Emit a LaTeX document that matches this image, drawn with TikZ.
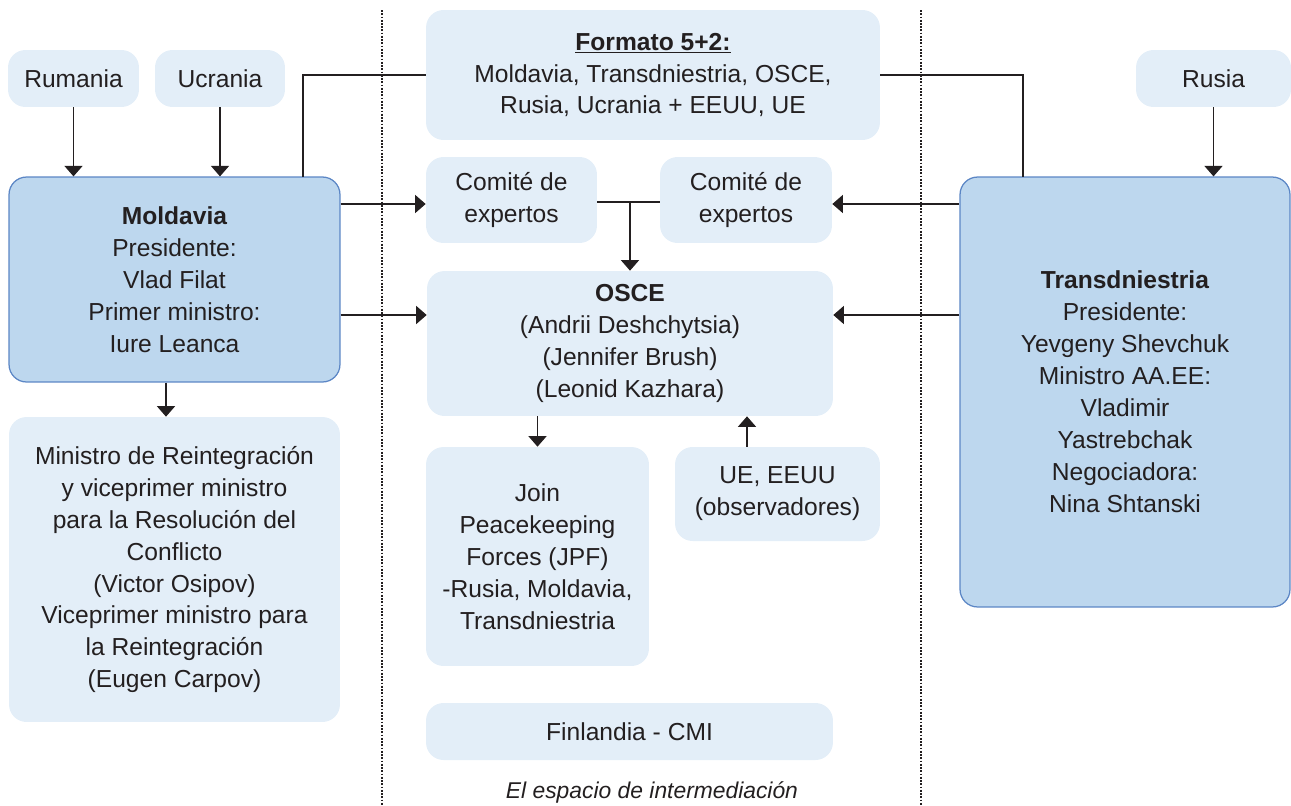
\documentclass[tikz,border=0pt]{standalone}
\usepackage{fontspec}
\setmainfont{Liberation Sans}
\usetikzlibrary{arrows.meta}

\begin{document}
\begin{tikzpicture}[x=0.02cm, y=-0.02cm,
  box/.style={rounded corners=0.35cm, fill=my_light, text=my_text, align=center, inner sep=0pt, font=\fontsize{14}{18.2}\selectfont},
  mainbox/.style={box, fill=my_blue, draw=my_border, line width=0.025cm},
  link/.style={line width=0.026cm, draw=my_text},
  arr/.style={link, -{Triangle[width=0.36cm, length=0.21cm]}}]
\definecolor{my_light}{RGB}{227,238,248}
\definecolor{my_blue}{RGB}{189,215,238}
\definecolor{my_border}{RGB}{91,134,197}
\definecolor{my_text}{RGB}{35,31,32}
\useasboundingbox (0,0) rectangle (1291,805);
% separators of the middle space
\draw[my_text, line width=0.045cm, dash pattern=on 0.035cm off 0.03cm] (382,10) -- (382,805);
\draw[my_text, line width=0.045cm, dash pattern=on 0.035cm off 0.03cm] (921,10) -- (921,805);
% top row
\node[box, minimum width=2.62cm, minimum height=1.14cm] (rumania) at (73.5,78.5) {Rumania};
\node[box, minimum width=2.6cm, minimum height=1.14cm] (ucrania) at (220,78.5) {Ucrania};
\node[box, minimum width=3.1cm, minimum height=1.14cm] (rusia) at (1213.5,78.5) {Rusia};
\node[box, minimum width=9.08cm, minimum height=2.6cm] (formato) at (653,75) {\underline{\textbf{Formato 5+2:}}\\Moldavia, Transdniestria, OSCE,\\Rusia, Ucrania + EEUU, UE};
% parties
\node[mainbox, minimum width=6.62cm, minimum height=4.1cm] (moldavia) at (174.5,279.5) {\textbf{Moldavia}\\Presidente:\\Vlad Filat\\Primer ministro:\\Iure Leanca};
\node[mainbox, minimum width=6.6cm, minimum height=8.6cm] (transdniestria) at (1125,392) {\textbf{Transdniestria}\\Presidente:\\Yevgeny Shevchuk\\Ministro AA.EE:\\Vladimir\\Yastrebchak\\Negociadora:\\Nina Shtanski};
\node[box, minimum width=6.62cm, minimum height=6.1cm] (ministro) at (174.5,569.5) {Ministro de Reintegración\\y viceprimer ministro\\para la Resolución del\\Conflicto\\(Victor Osipov)\\Viceprimer ministro para\\la Reintegración\\(Eugen Carpov)};
% middle space
\node[box, minimum width=3.42cm, minimum height=1.72cm] (comite_m) at (511.5,200) {Comité de\\expertos};
\node[box, minimum width=3.44cm, minimum height=1.72cm] (comite_t) at (746,200) {Comité de\\expertos};
\node[box, minimum width=8.12cm, minimum height=2.9cm] (osce) at (630,343.5) {\textbf{OSCE}\\(Andrii Deshchytsia)\\(Jennifer Brush)\\(Leonid Kazhara)};
\node[box, minimum width=4.46cm, minimum height=4.38cm] (jpf) at (537.5,556.5) {Join\\Peacekeeping\\Forces (JPF)\\-Rusia, Moldavia,\\Transdniestria};
\node[box, minimum width=4.1cm, minimum height=1.88cm] (observadores) at (777.5,494) {UE, EEUU\\(observadores)};
\node[box, minimum width=8.14cm, minimum height=1.14cm] (finlandia) at (629.5,731.5) {Finlandia - CMI};
\node[text=my_text, font=\itshape\fontsize{13}{16}\selectfont] (espacio) at (652,792) {El espacio de intermediación};
% connectors
\coordinate (moldavia_top) at (303,177);
\coordinate (transdniestria_top) at (1023,177);
\draw[arr] (rumania.south) -- (rumania.south |- moldavia.north);
\draw[arr] (ucrania.south) -- (ucrania.south |- moldavia.north);
\draw[arr] (rusia.south) -- (rusia.south |- transdniestria.north);
\draw[link] (moldavia_top) |- (formato.west);
\draw[link] (formato.east) -| (transdniestria_top);
\draw[arr] (moldavia.east |- 0,204) -- (comite_m.west |- 0,204);
\draw[arr] (transdniestria.west |- 0,204) -- (comite_t.east |- 0,204);
\draw[link] (comite_m.east |- 0,202) -- (comite_t.west |- 0,202);
\draw[arr] (osce.north |- 0,202) -- (osce.north);
\draw[arr] (moldavia.east |- 0,315) -- (osce.west |- 0,315);
\draw[arr] (transdniestria.west |- 0,315) -- (osce.east |- 0,315);
\draw[arr] (166,0 |- moldavia.south) -- (166,0 |- ministro.north);
\draw[arr] (osce.south -| jpf.north) -- (jpf.north);
\draw[arr] (747,0 |- observadores.north) -- (747,0 |- osce.south);
\end{tikzpicture}
\end{document}
